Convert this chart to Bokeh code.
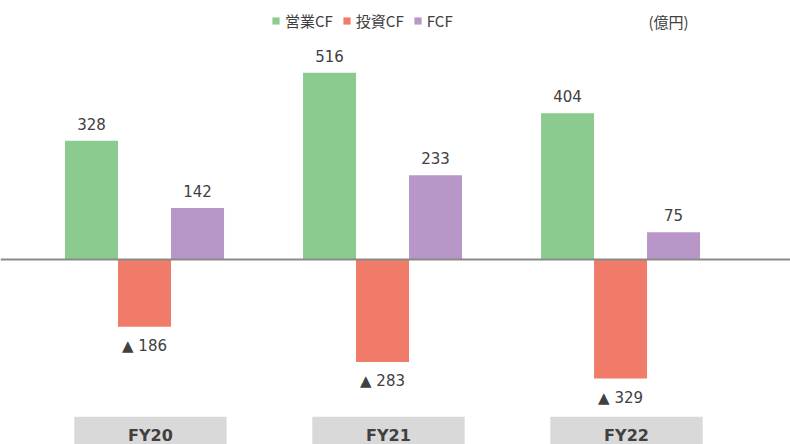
import numpy as np
from bokeh.plotting import figure
from bokeh.models import Range1d, Span, Legend, LegendItem, Label, ColumnDataSource
from bokeh.core.properties import value
from bokeh.embed import file_html
from bokeh.resources import INLINE

years = ["FY20", "FY21", "FY22"]
series_names = ["営業CF", "投資CF", "FCF"]
op_cf = [328, 516, 404]
inv_cf = [-186, -283, -329]
fcf = [142, 233, 75]
unit_label = "(億円)"

colors = ["#8ccb8f", "#f07b69", "#b996c8"]
text_color = "#404040"
num_font = value("DejaVu Sans")
jp_font_name = "Noto Sans CJK JP"

p = figure(width=790, height=444, output_backend="svg", toolbar_location=None,
           x_range=Range1d(-0.605, 2.714), y_range=Range1d(-511, 715.5),
           min_border=0, outline_line_color=None)
p.axis.visible = False
p.grid.visible = False

idx = np.arange(len(years))
bw = 0.2227
offsets = [-bw, 0.0, bw]
renderers = []
for vals, off, col in zip([op_cf, inv_cf, fcf], offsets, colors):
    src = ColumnDataSource(dict(
        x=idx + off, top=vals,
        lbl=[str(v) if v >= 0 else "▲ " + str(abs(v)) for v in vals]))
    r = p.vbar(x="x", top="top", bottom=0, width=bw, source=src,
               fill_color=col, line_color=None)
    renderers.append(r)
    pos = [v >= 0 for v in vals]
    if all(pos):
        p.text(x="x", y="top", text="lbl", source=src, text_align="center",
               text_baseline="middle", y_offset=-17, text_font=num_font,
               text_font_size="15px", text_color=text_color)
    else:
        p.text(x="x", y="top", text="lbl", source=src, text_align="center",
               text_baseline="middle", y_offset=19, text_font=num_font,
               text_font_size="15px", text_color=text_color)

p.add_layout(Span(location=0, dimension="width", line_color="#8a8a8a", line_width=2))

# category boxes
box_src = ColumnDataSource(dict(cx=idx + 0.025, yr=years))
p.quad(left=idx + 0.025 - 0.32, right=idx + 0.025 + 0.32, bottom=-700, top=-434,
       fill_color="#d9d9d9", line_color=None)
p.text(x="cx", y=-485, text="yr", source=box_src, text_align="center",
       text_baseline="middle", text_font=num_font, text_font_size="16px",
       text_font_style="bold", text_color=text_color)

legend = Legend(items=[LegendItem(label=n, renderers=[r]) for n, r in zip(series_names, renderers)],
                orientation="horizontal", location=(271, 413),
                glyph_width=9, glyph_height=9, label_standoff=5, spacing=9,
                label_height=16, padding=0, margin=0,
                label_text_font=jp_font_name, label_text_font_size="15px",
                label_text_color=text_color, border_line_color=None,
                background_fill_alpha=0)
p.add_layout(legend, "center")

p.add_layout(Label(x=648, y=423, x_units="screen", y_units="screen", text=unit_label,
                   text_font=jp_font_name, text_font_size="15px", text_color=text_color,
                   text_baseline="middle"))

open("out.html", "w").write(file_html(p, INLINE))
